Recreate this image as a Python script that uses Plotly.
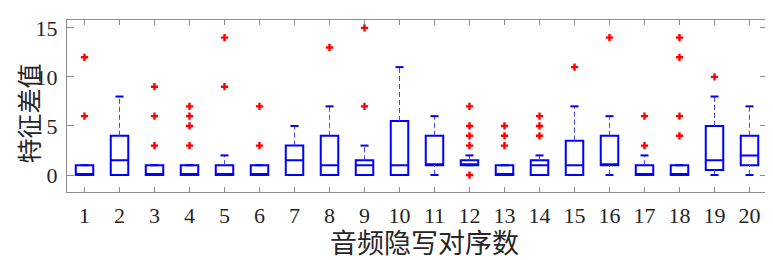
import plotly.graph_objects as go

# ---- data ----
pairs = list(range(1, 21))
q1 =      [0, 0,   0, 0, 0, 0, 0,   0, 0,   0,   1, 1,   0, 0,   0,   1, 0, 0, 0.5, 1]
median =  [0, 1.5, 0, 0, 0, 0, 1.5, 1, 1,   1,   1, 1,   0, 1,   1,   1, 0, 0, 1.5, 2]
q3 =      [1, 4,   1, 1, 1, 1, 3,   4, 1.5, 5.5, 4, 1.5, 1, 1.5, 3.5, 4, 1, 1, 5,   4]
lower_w = [0, 0,   0, 0, 0, 0, 0,   0, 0,   0,   0, 1,   0, 0,   0,   0, 0, 0, 0,   0]
upper_w = [1, 8,   1, 1, 2, 1, 5,   7, 3,   11,  6, 2,   1, 2,   7,   6, 2, 1, 8,   7]
outliers = [
    [12, 6], [], [9, 6, 3], [7, 6, 5, 3], [14, 9], [7, 3], [], [13], [15, 7], [],
    [], [7, 5, 4, 3, 0], [5, 4, 3], [6, 5, 4], [11], [14], [6, 3], [14, 12, 6, 4], [10], [],
]
tick_labels = [str(p) for p in pairs]
y_ticks = [0, 5, 10, 15]
x_title = "音频隐写对序数"
y_title = "特征差值"

BLUE = "#0000FF"
RED = "#FF0000"
cap_half = 0.115

# whiskers (dashed)
wx, wy = [], []
for p, a, b, lo, hi in zip(pairs, q1, q3, lower_w, upper_w):
    wx += [p, p, None, p, p, None]
    wy += [b, hi, None, lo, a, None]
# caps
cx, cy = [], []
for p, lo, hi in zip(pairs, lower_w, upper_w):
    cx += [p - cap_half, p + cap_half, None, p - cap_half, p + cap_half, None]
    cy += [hi, hi, None, lo, lo, None]
# outliers
ox, oy = [], []
for p, outs in zip(pairs, outliers):
    for v in outs:
        ox.append(p)
        oy.append(v)

fig = go.Figure()
fig.add_trace(go.Scatter(x=wx, y=wy, mode="lines",
                         line=dict(color="#4444ff", width=1, dash="5px,3px"),
                         hoverinfo="skip", showlegend=False))
fig.add_trace(go.Box(x=pairs, q1=q1, median=median, q3=q3,
                     lowerfence=q1, upperfence=q3, width=0.5,
                     line=dict(color=BLUE, width=2),
                     fillcolor="rgba(0,0,0,0)", boxpoints=False,
                     whiskerwidth=0, showlegend=False, hoverinfo="skip"))
fig.add_trace(go.Scatter(x=cx, y=cy, mode="lines",
                         line=dict(color=BLUE, width=2),
                         hoverinfo="skip", showlegend=False))
fig.add_trace(go.Scatter(x=ox, y=oy, mode="markers",
                         marker=dict(symbol="cross", size=6, color=RED,
                                     line=dict(width=0)),
                         hoverinfo="skip", showlegend=False))

axis_common = dict(showgrid=False, zeroline=False, showline=True, automargin=False,
                   linecolor="#8c8c8c", linewidth=1, mirror="ticks",
                   ticks="inside", tickcolor="#8c8c8c",
                   tickfont=dict(family="Liberation Serif", size=22, color="#262626"))

title_font = dict(family="Noto Sans CJK SC", size=27, color="#262626")

# the page body adds an 8px offset, so the figure is sized 765x252
fig.update_layout(
    width=765, height=252,
    margin=dict(l=59, r=6, t=12, b=68),
    paper_bgcolor="white", plot_bgcolor="white",
    xaxis=dict(range=[0.5, 20.5], tickmode="array", tickvals=pairs,
               ticktext=tick_labels, ticklen=5, ticklabelstandoff=4,
               **axis_common),
    yaxis=dict(range=[-1.73, 15.8], tickmode="array", tickvals=y_ticks,
               ticklen=7, ticklabelstandoff=4,
               **axis_common),
    annotations=[
        dict(text=x_title, xref="paper", yref="paper", x=0.51, y=-0.285,
             xanchor="center", yanchor="middle", showarrow=False, font=title_font),
        dict(text=y_title, xref="paper", yref="paper", x=-0.056, y=0.455,
             xanchor="center", yanchor="middle", textangle=-90, showarrow=False,
             font=dict(family="Noto Sans CJK SC", size=25, color="#262626")),
    ],
)

fig.write_html("out.html")
